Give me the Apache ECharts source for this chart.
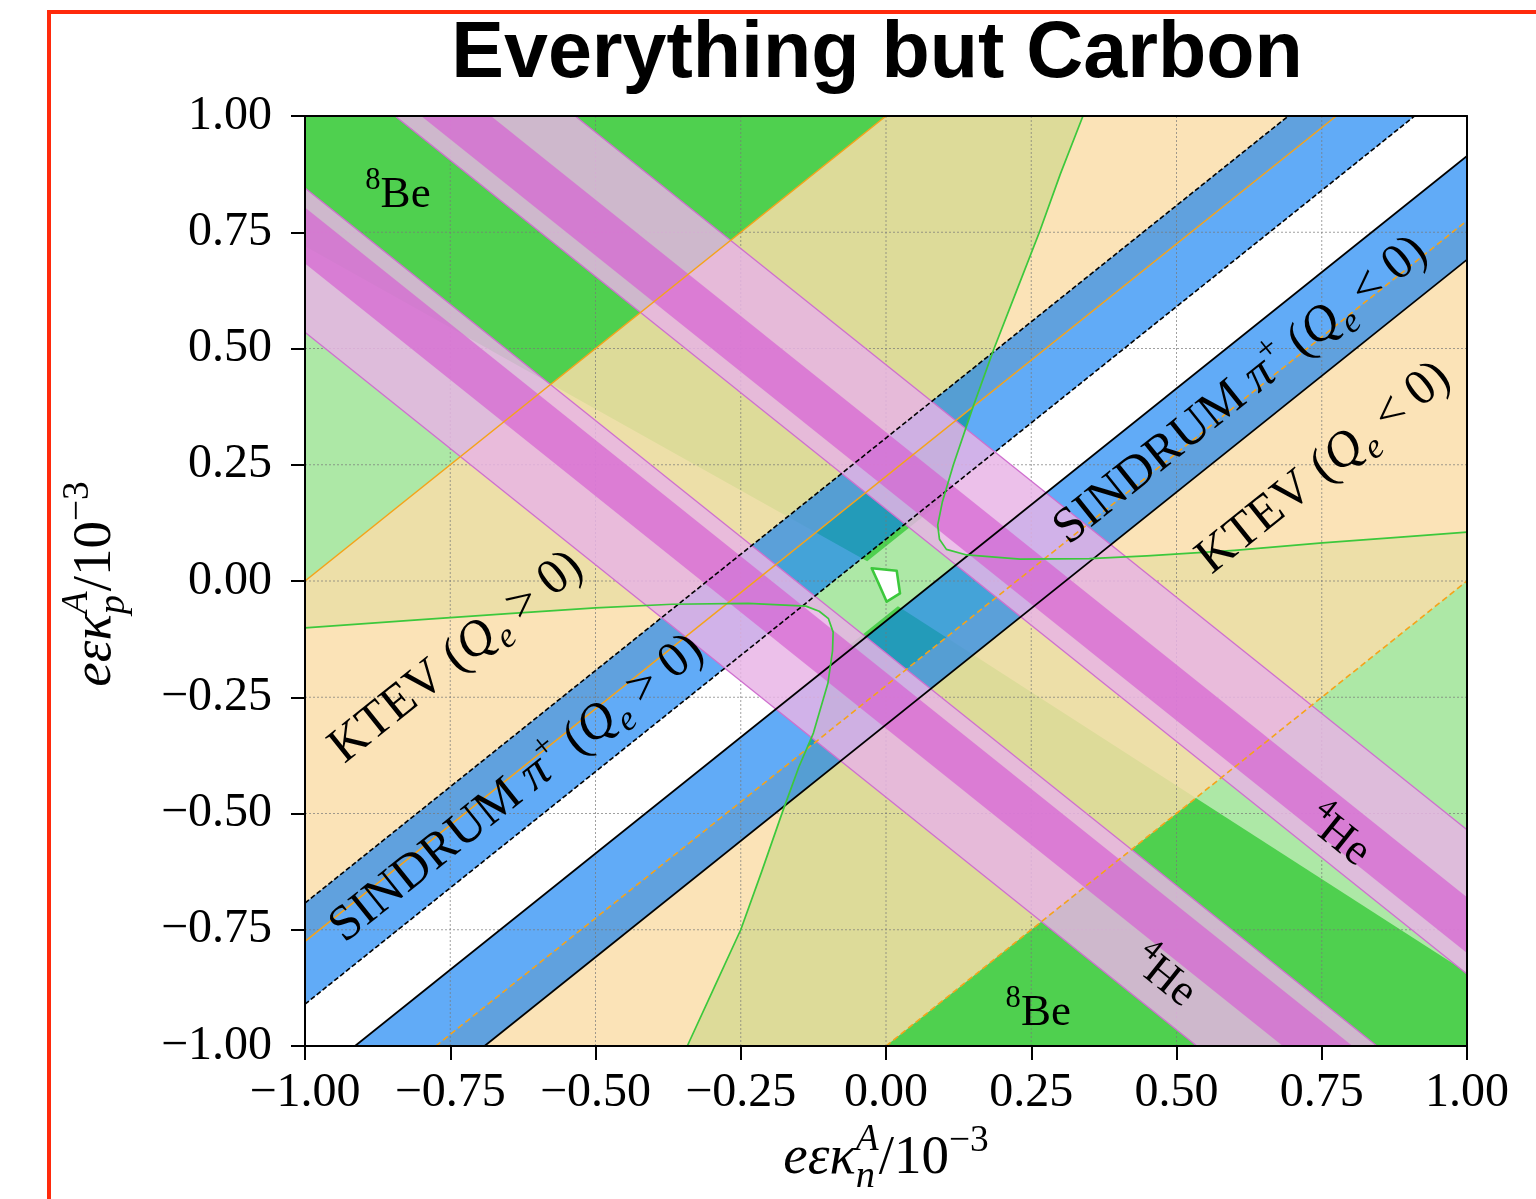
<!DOCTYPE html>
<html>
<head>
<meta charset="utf-8">
<title>Everything but Carbon</title>
<script src="https://cdn.jsdelivr.net/npm/echarts/dist/echarts.min.js"></script>
<style>
  html, body { margin: 0; padding: 0; background: #ffffff; }
  #chart { width: 1536px; height: 1199px; }
</style>
</head>
<body>
<div id="chart"></div>
<script>
// ---------------- data (couplings in units of 1e-3) ----------------
const AXIS_MIN = -1, AXIS_MAX = 1, TICK_STEP = 0.25;
const tickValues = [-1, -0.75, -0.5, -0.25, 0, 0.25, 0.5, 0.75, 1];

// KTEV excluded bands, given as ranges of d = kp - kn
const ktevQePos = [0.225, 1.0];
const ktevQeNeg = [-1.0, -0.225];

// SINDRUM pi+ bands, ranges of d = kp - kn
const sindrumQePos = [0.09, 0.3075];
const sindrumQeNeg = [-0.309, -0.086];

// 4He favoured bands, ranges of s = kp + kn (wide band and its core)
const he4Wide = [[-0.465, -0.155], [0.155, 0.465]];
const he4Core = [[-0.317, -0.197], [0.200, 0.320]];

// 8Be contour branches [kn, kp]
const be8UpperBranch = [
  [0.339, 1.000], [0.300, 0.875], [0.264, 0.750], [0.225, 0.625], [0.186, 0.500],
  [0.150, 0.375], [0.116, 0.250], [0.097, 0.170], [0.089, 0.120], [0.092, 0.090],
  [0.104, 0.068], [0.139, 0.056], [0.231, 0.047], [0.350, 0.048], [0.449, 0.054],
  [0.600, 0.066], [0.751, 0.082], [0.880, 0.094], [1.000, 0.105]
];
const be8LowerBranch = [
  [-0.342, -1.000], [-0.296, -0.875], [-0.250, -0.750], [-0.214, -0.625], [-0.178, -0.496],
  [-0.150, -0.400], [-0.125, -0.327], [-0.100, -0.220], [-0.092, -0.150], [-0.091, -0.110],
  [-0.099, -0.081], [-0.115, -0.065], [-0.138, -0.054], [-0.237, -0.048], [-0.368, -0.050],
  [-0.500, -0.058], [-0.650, -0.070], [-0.800, -0.083], [-1.000, -0.101]
];
// edges of the dark (1 sigma) 8Be lobes: [slope, intercept] and the diagonal cut in d
const be8CoreUpperEdge = [-0.700, 0.020];
const be8CoreLowerEdge = [-0.804, -0.038];
const be8CoreDiagCut = 0.075;

// combined best-fit pocket [kn, kp]
const bestFitRegion = [[-0.0246, 0.0273], [0.0184, 0.0222], [0.0241, -0.0265], [0.0012, -0.0445], [-0.0138, -0.0022]];

// ---------------- geometry helpers ----------------
const BOX = [[AXIS_MIN, AXIS_MIN], [AXIS_MAX, AXIS_MIN], [AXIS_MAX, AXIS_MAX], [AXIS_MIN, AXIS_MAX]];

// keep the part of a polygon where a*x + b*y + c >= 0
function clipHalf(poly, a, b, c) {
  const out = [];
  for (let i = 0; i < poly.length; i++) {
    const P = poly[i], Q = poly[(i + 1) % poly.length];
    const fp = a * P[0] + b * P[1] + c, fq = a * Q[0] + b * Q[1] + c;
    if (fp >= 0) out.push(P);
    if ((fp >= 0) !== (fq >= 0)) {
      const t = fp / (fp - fq);
      out.push([P[0] + t * (Q[0] - P[0]), P[1] + t * (Q[1] - P[1])]);
    }
  }
  return out;
}
// band lo < y - x < hi  (kind 'd')  or  lo < x + y < hi (kind 's')
function bandPoly(kind, range) {
  const lo = range[0], hi = range[1];
  let p = BOX.slice();
  if (kind === 'd') { p = clipHalf(p, -1, 1, -lo); p = clipHalf(p, 1, -1, hi); }
  else { p = clipHalf(p, 1, 1, -lo); p = clipHalf(p, -1, -1, hi); }
  return p;
}
// line y = x + k (kind 'd') or y = -x + k (kind 's'), clipped to the box
function lineSeg(kind, k) {
  const s = kind === 'd' ? 1 : -1;
  const xa = (AXIS_MIN - k) / s, xb = (AXIS_MAX - k) / s;
  const x0 = Math.max(AXIS_MIN, Math.min(xa, xb)), x1 = Math.min(AXIS_MAX, Math.max(xa, xb));
  if (x0 >= x1) return null;
  return [[x0, s * x0 + k], [x1, s * x1 + k]];
}

// dark 8Be lobes
const coreUL = clipHalf(clipHalf(BOX, -be8CoreUpperEdge[0], 1, -be8CoreUpperEdge[1]), -1, 1, -be8CoreDiagCut);
const coreLR = clipHalf(clipHalf(BOX, be8CoreLowerEdge[0], -1, be8CoreLowerEdge[1]), 1, -1, -be8CoreDiagCut);
// regions enclosed by each contour branch (outside the 8Be region)
const upperInside = be8UpperBranch.concat([[AXIS_MAX, AXIS_MAX]]);
const lowerInside = be8LowerBranch.concat([[AXIS_MIN, AXIS_MIN]]);

// ---------------- colours ----------------
const C = {
  lightGreen: '#ade8a6',
  darkGreen: '#4fd04f',
  tan: 'rgba(250,221,168,0.83)',
  blue: 'rgba(12,126,243,0.65)',
  pink: 'rgba(232,179,230,0.83)',
  magenta: 'rgba(214,98,210,0.70)',
  pinkEdge: '#cf6fcf',
  orange: '#f5a31a',
  green: '#3cc83c',
  grid: 'rgba(120,120,120,0.7)'
};
const SERIF_NAME = 'Liberation Serif';
const SERIF = '"Liberation Serif", "Times New Roman", serif';

// ---------------- text helpers ----------------
const measureCtx = document.createElement('canvas').getContext('2d');
function pieceStyle(kind, base) {
  switch (kind) {
    case 'it': return { size: base, italic: true, rise: 0 };
    case 'sub': return { size: base * 0.7, italic: true, rise: -0.22 * base };
    case 'sup': return { size: base * 0.68, italic: false, rise: 0.42 * base };
    case 'supit': return { size: base * 0.68, italic: true, rise: 0.45 * base };
    default: return { size: base, italic: false, rise: 0 };
  }
}
// lays out [text, kind, stacked] pieces on a baseline; returns text elements centred on (0,0)
function mathRow(parts, base) {
  const items = [];
  let cursor = 0, prevStart = 0;
  parts.forEach(function (p) {
    const st = pieceStyle(p[1], base);
    const size = Math.round(st.size * 10) / 10;
    const font = (st.italic ? 'italic ' : '') + size + 'px ' + SERIF;
    measureCtx.font = font;
    const w = measureCtx.measureText(p[0]).width;
    const start = p[2] ? prevStart : cursor;
    items.push({ text: p[0], size: size, st: st, start: start });
    cursor = p[2] ? Math.max(cursor, start + w) : start + w;
    prevStart = start;
  });
  const width = cursor;
  return items.map(function (it) {
    return {
      type: 'text',
      x: it.start - width / 2,
      y: 0.3 * base - it.st.rise - 0.34 * it.size,
      style: {
        text: it.text, fill: '#000',
        fontStyle: it.st.italic ? 'italic' : 'normal', fontWeight: 'normal',
        fontSize: it.size, fontFamily: SERIF_NAME,
        align: 'left', verticalAlign: 'middle',
        textAlign: 'left', textVerticalAlign: 'middle'
      }
    };
  });
}

// labels placed in data coordinates; dir: 0 flat, 1 along kp = kn, -1 along kp = -kn
const GT = ' > 0)', LT = ' < 0)';
const plotLabels = [
  { at: [-0.840, 0.826], dir: 0, size: 45, parts: [['8', 'sup'], ['Be', 'rm']] },
  { at: [0.262, -0.933], dir: 0, size: 45, parts: [['8', 'sup'], ['Be', 'rm']] },
  { at: [0.776, -0.553], dir: -1, size: 45, parts: [['4', 'sup'], ['He', 'rm']] },
  { at: [0.476, -0.856], dir: -1, size: 45, parts: [['4', 'sup'], ['He', 'rm']] },
  { at: [-0.737, -0.168], dir: 1, size: 50, parts: [['KTEV ', 'rm'], ['(', 'rm'], ['Q', 'it'], ['e', 'sub'], [GT, 'rm']] },
  { at: [-0.633, -0.450], dir: 1, size: 50, parts: [['SINDRUM ', 'rm'], ['\u03c0', 'it'], ['+', 'sup'], [' (', 'rm'], ['Q', 'it'], ['e', 'sub'], [GT, 'rm']] },
  { at: [0.613, 0.406], dir: 1, size: 50, parts: [['SINDRUM ', 'rm'], ['\u03c0', 'it'], ['+', 'sup'], [' (', 'rm'], ['Q', 'it'], ['e', 'sub'], [LT, 'rm']] },
  { at: [0.756, 0.239], dir: 1, size: 50, parts: [['KTEV ', 'rm'], ['(', 'rm'], ['Q', 'it'], ['e', 'sub'], [LT, 'rm']] }
];

// ---------------- series builders ----------------
function toPx(api, pts) { return pts.map(function (p) { return api.coord(p); }); }
function poly(api, pts, style) { return { type: 'polygon', shape: { points: toPx(api, pts) }, style: style }; }
function pline(api, pts, style) {
  return { type: 'polyline', shape: { points: toPx(api, pts) }, style: Object.assign({ fill: null }, style) };
}
function layer(name, z, build) {
  return {
    type: 'custom', name: name, coordinateSystem: 'cartesian2d', xAxisIndex: 0, yAxisIndex: 0,
    z: z, silent: true, animation: false, data: [[0, 0]],
    renderItem: function (params, api) { return { type: 'group', children: build(api) }; }
  };
}

const series = [
  // 8Be: light band everywhere between the branches, dark lobes, open regions inside each branch
  layer('8Be', 1, function (api) {
    return [
      poly(api, BOX, { fill: C.lightGreen }),
      poly(api, coreUL, { fill: C.darkGreen }),
      poly(api, coreLR, { fill: C.darkGreen }),
      poly(api, upperInside, { fill: '#ffffff' }),
      poly(api, lowerInside, { fill: '#ffffff' })
    ];
  }),
  // KTEV
  layer('KTEV', 2, function (api) {
    return [ktevQePos, ktevQeNeg].map(function (r) { return poly(api, bandPoly('d', r), { fill: C.tan }); });
  }),
  // SINDRUM
  layer('SINDRUM', 3, function (api) {
    return [sindrumQePos, sindrumQeNeg].map(function (r) { return poly(api, bandPoly('d', r), { fill: C.blue }); });
  }),
  // grid
  layer('grid', 4, function (api) {
    const out = [];
    tickValues.forEach(function (v) {
      out.push(pline(api, [[v, AXIS_MIN], [v, AXIS_MAX]], { stroke: C.grid, lineWidth: 1, lineDash: [2, 2] }));
      out.push(pline(api, [[AXIS_MIN, v], [AXIS_MAX, v]], { stroke: C.grid, lineWidth: 1, lineDash: [2, 2] }));
    });
    return out;
  }),
  // 4He
  layer('4He', 5, function (api) {
    const out = [];
    he4Wide.forEach(function (r) { out.push(poly(api, bandPoly('s', r), { fill: C.pink })); });
    he4Core.forEach(function (r) { out.push(poly(api, bandPoly('s', r), { fill: C.magenta })); });
    he4Wide.forEach(function (r) {
      r.forEach(function (k) {
        const seg = lineSeg('s', k);
        if (seg) out.push(pline(api, seg, { stroke: C.pinkEdge, lineWidth: 1.3 }));
      });
    });
    return out;
  }),
  // boundary lines
  layer('edges', 6, function (api) {
    const out = [];
    sindrumQePos.forEach(function (k) {
      out.push(pline(api, lineSeg('d', k), { stroke: '#000', lineWidth: 1.6, lineDash: [5, 2.5] }));
    });
    sindrumQeNeg.forEach(function (k) {
      out.push(pline(api, lineSeg('d', k), { stroke: '#000', lineWidth: 1.7 }));
    });
    ktevQePos.forEach(function (k) {
      out.push(pline(api, lineSeg('d', k), { stroke: C.orange, lineWidth: 1.6 }));
    });
    ktevQeNeg.forEach(function (k) {
      out.push(pline(api, lineSeg('d', k), { stroke: C.orange, lineWidth: 1.6, lineDash: [6, 3.5] }));
    });
    out.push(pline(api, be8UpperBranch, { stroke: C.green, lineWidth: 1.7, lineJoin: 'round' }));
    out.push(pline(api, be8LowerBranch, { stroke: C.green, lineWidth: 1.7, lineJoin: 'round' }));
    out.push(poly(api, bestFitRegion, { fill: '#ffffff', stroke: C.green, lineWidth: 2.6, lineJoin: 'round' }));
    return out;
  }),
  // in-plot labels
  layer('labels', 7, function (api) {
    const o = api.coord([0, 0]), d = api.coord([1, 1]);
    const ang = Math.atan2(o[1] - d[1], d[0] - o[0]);
    return plotLabels.map(function (L) {
      const pos = api.coord(L.at);
      return { type: 'group', x: pos[0], y: pos[1], rotation: L.dir * ang, children: mathRow(L.parts, L.size) };
    });
  })
];

const fmt = function (v) { return (v < 0 ? '\u2212' : '') + Math.abs(v).toFixed(2); };
const frameAxis = {
  type: 'value', min: AXIS_MIN, max: AXIS_MAX, interval: TICK_STEP, z: 20,
  axisLine: { show: true, onZero: false, lineStyle: { color: '#000', width: 2 } },
  axisTick: { show: false }, axisLabel: { show: false }, splitLine: { show: false }
};

const option = {
  animation: false,
  backgroundColor: '#ffffff',
  grid: { left: 305, top: 116, width: 1162, height: 930, containLabel: false },
  xAxis: [
    {
      type: 'value', min: AXIS_MIN, max: AXIS_MAX, interval: TICK_STEP, position: 'bottom', z: 20,
      axisLine: { show: true, onZero: false, lineStyle: { color: '#000', width: 2 } },
      axisTick: { show: true, inside: false, length: 14, lineStyle: { color: '#000', width: 2 } },
      axisLabel: { show: true, margin: 23, color: '#000', fontFamily: SERIF_NAME, fontSize: 48, formatter: fmt },
      splitLine: { show: false }
    },
    Object.assign({ position: 'top' }, frameAxis)
  ],
  yAxis: [
    {
      type: 'value', min: AXIS_MIN, max: AXIS_MAX, interval: TICK_STEP, position: 'left', z: 20,
      axisLine: { show: true, onZero: false, lineStyle: { color: '#000', width: 2 } },
      axisTick: { show: true, inside: false, length: 14, lineStyle: { color: '#000', width: 2 } },
      axisLabel: { show: true, margin: 33, color: '#000', fontFamily: SERIF_NAME, fontSize: 48, formatter: fmt },
      splitLine: { show: false }
    },
    Object.assign({ position: 'right' }, frameAxis)
  ],
  series: series,
  graphic: [
    // outer red frame
    { type: 'line', z: 50, shape: { x1: 49, y1: 12, x2: 49, y2: 1199 }, style: { stroke: '#ff2a0c', lineWidth: 4 } },
    { type: 'line', z: 50, shape: { x1: 47, y1: 12, x2: 1536, y2: 12 }, style: { stroke: '#ff2a0c', lineWidth: 4 } },
    // title
    {
      type: 'text', x: 877, y: 55, z: 50,
      style: { text: 'Everything but Carbon', font: 'bold 79px "Liberation Sans", Arial, sans-serif', fill: '#000',
        align: 'center', verticalAlign: 'middle', textAlign: 'center', textVerticalAlign: 'middle' }
    },
    // axis titles
    {
      type: 'group', x: 886, y: 1161, z: 50,
      children: mathRow([['e\u03b5\u03ba', 'it'], ['n', 'sub'], ['A', 'supit', true], ['/10', 'rm'], ['\u22123', 'sup']], 55)
    },
    {
      type: 'group', x: 98, y: 584, rotation: Math.PI / 2, z: 50,
      children: mathRow([['e\u03b5\u03ba', 'it'], ['p', 'sub'], ['A', 'supit', true], ['/10', 'rm'], ['\u22123', 'sup']], 55)
    }
  ]
};

const chart = echarts.init(document.getElementById('chart'), null, { renderer: 'canvas' });
chart.setOption(option);
</script>
</body>
</html>
